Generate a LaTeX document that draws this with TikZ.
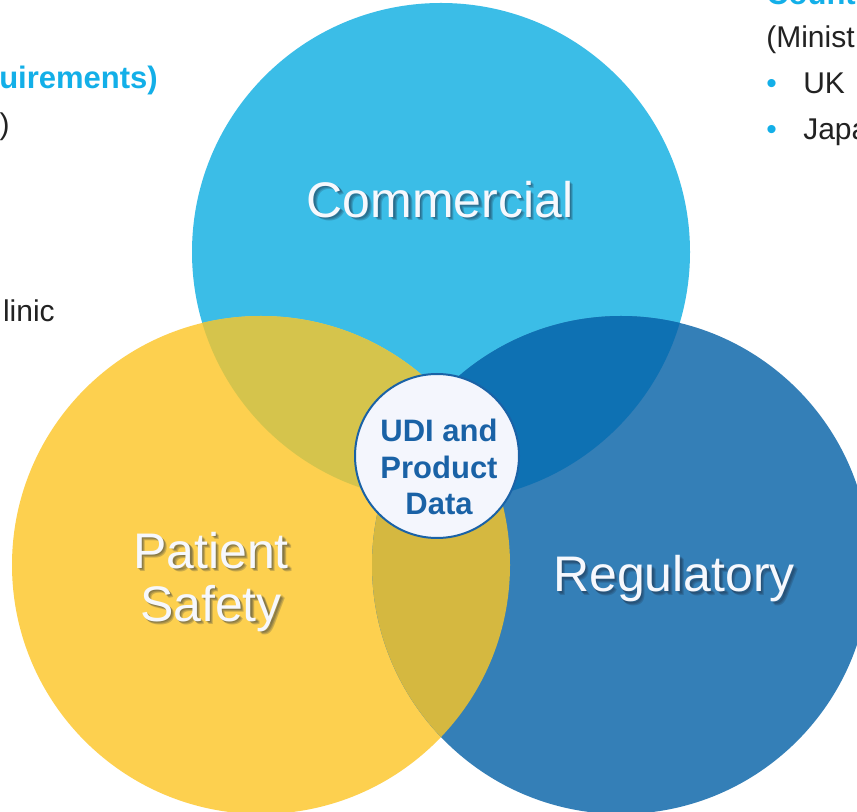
\documentclass[tikz,border=0pt]{standalone}
\usepackage{fontspec}
\setmainfont{Liberation Sans}

\definecolor{commBlue}{HTML}{3BBDE7}
\definecolor{safeYellow}{HTML}{FDD04F}
\definecolor{regBlue}{HTML}{347FB7}
\definecolor{commSafe}{HTML}{D5C44C}
\definecolor{commReg}{HTML}{0E71B3}
\definecolor{safeReg}{HTML}{D5B840}
\definecolor{allThree}{HTML}{C9B447}
\definecolor{udiFill}{HTML}{F4F6FD}
\definecolor{udiBlue}{HTML}{1A62A6}
\definecolor{accent}{HTML}{13AFE8}
\definecolor{bodyText}{HTML}{222222}
\definecolor{labelWhite}{HTML}{F6F8FD}
\definecolor{shadowInk}{HTML}{1C2A40}

\def\vennR{186.75pt}

\begin{document}
\begin{tikzpicture}[x=0.75pt,y=-0.75pt,
  bigLabel/.style={font=\fontsize{37.5}{39.75}\selectfont, text=labelWhite, inner sep=0pt, align=center},
  labelShadow/.style={bigLabel, text=shadowInk, opacity=0.22},
  sideText/.style={font=\fontsize{22.5}{27}\selectfont, text=bodyText, inner sep=0pt},
  sideHead/.style={font=\fontsize{23.25}{27}\selectfont\bfseries, text=accent, inner sep=0pt},
  bulletMark/.style={sideText, text=accent},
  udiDisc/.style={circle, draw=udiBlue, line width=1.5pt, fill=udiFill, minimum size=123pt, inner sep=0pt},
  udiLabel/.style={font=\fontsize{23.25}{27.5}\selectfont\bfseries, text=udiBlue, align=center, inner sep=0pt}
]
\useasboundingbox (0,0) rectangle (857,812);
\clip (0,0) rectangle (857,812);
\fill[white] (0,0) rectangle (857,812);

% circle centres
\coordinate (comm) at (441,252);
\coordinate (safe) at (261,565);
\coordinate (reg)  at (621,565);

% the three discs
\fill[commBlue]   (comm) circle[radius=\vennR];
\fill[safeYellow] (safe) circle[radius=\vennR];
\fill[regBlue]    (reg)  circle[radius=\vennR];

% pairwise overlaps
\begin{scope}
  \clip (comm) circle[radius=\vennR];
  \fill[commSafe] (safe) circle[radius=\vennR];
\end{scope}
\begin{scope}
  \clip (comm) circle[radius=\vennR];
  \fill[commReg] (reg) circle[radius=\vennR];
\end{scope}
\begin{scope}
  \clip (safe) circle[radius=\vennR];
  \fill[safeReg] (reg) circle[radius=\vennR];
\end{scope}
% triple overlap
\begin{scope}
  \clip (safe) circle[radius=\vennR];
  \clip (comm) circle[radius=\vennR];
  \fill[allThree] (reg) circle[radius=\vennR];
\end{scope}

% centre disc
\node[udiDisc] (udi) at (437,456) {};
\node[udiLabel] (udiText) at (439,467) {UDI and\\Product\\Data};

% circle titles with a soft, layered shadow
\node[labelShadow, anchor=base] (commShadowA) at (441.5,218.5) {Commercial};
\node[labelShadow, anchor=base] (commShadowB) at (442.5,219.5) {Commercial};
\node[labelShadow, anchor=base] (commShadowC) at (443.5,220.5) {Commercial};
\node[bigLabel, anchor=base] (commLabel) at (440,218) {Commercial};

\node[labelShadow, anchor=base] (regShadowA) at (675.5,593.5) {Regulatory};
\node[labelShadow, anchor=base] (regShadowB) at (676.5,594.5) {Regulatory};
\node[labelShadow, anchor=base] (regShadowC) at (677.5,595.5) {Regulatory};
\node[bigLabel, anchor=base] (regLabel) at (674,592) {Regulatory};

\node[labelShadow] (safeShadowA) at (212.5,583.5) {Patient\\Safety};
\node[labelShadow] (safeShadowB) at (213.5,584.5) {Patient\\Safety};
\node[labelShadow] (safeShadowC) at (214.5,585.5) {Patient\\Safety};
\node[bigLabel] (safeLabel) at (211,582) {Patient\\Safety};

% surrounding slide text
\node[sideHead, anchor=base east] (reqHead) at (158,89) {uirements)};
\node[sideText, anchor=base east] (reqTail) at (10,135) {)};
\node[sideText, anchor=base east] (clinicWord) at (55,322) {linic};

\node[sideHead, anchor=base west] (countryHead) at (766,5) {Count};
\node[sideText, anchor=base west] (ministryLine) at (766,48) {(Minist};
\node[bulletMark, anchor=base west] (ukBullet) at (766,94) {•};
\node[sideText, anchor=base west] (ukItem) at (803,94) {UK};
\node[bulletMark, anchor=base west] (jpBullet) at (766,140) {•};
\node[sideText, anchor=base west] (jpItem) at (803,140) {Japa};
\end{tikzpicture}
\end{document}
